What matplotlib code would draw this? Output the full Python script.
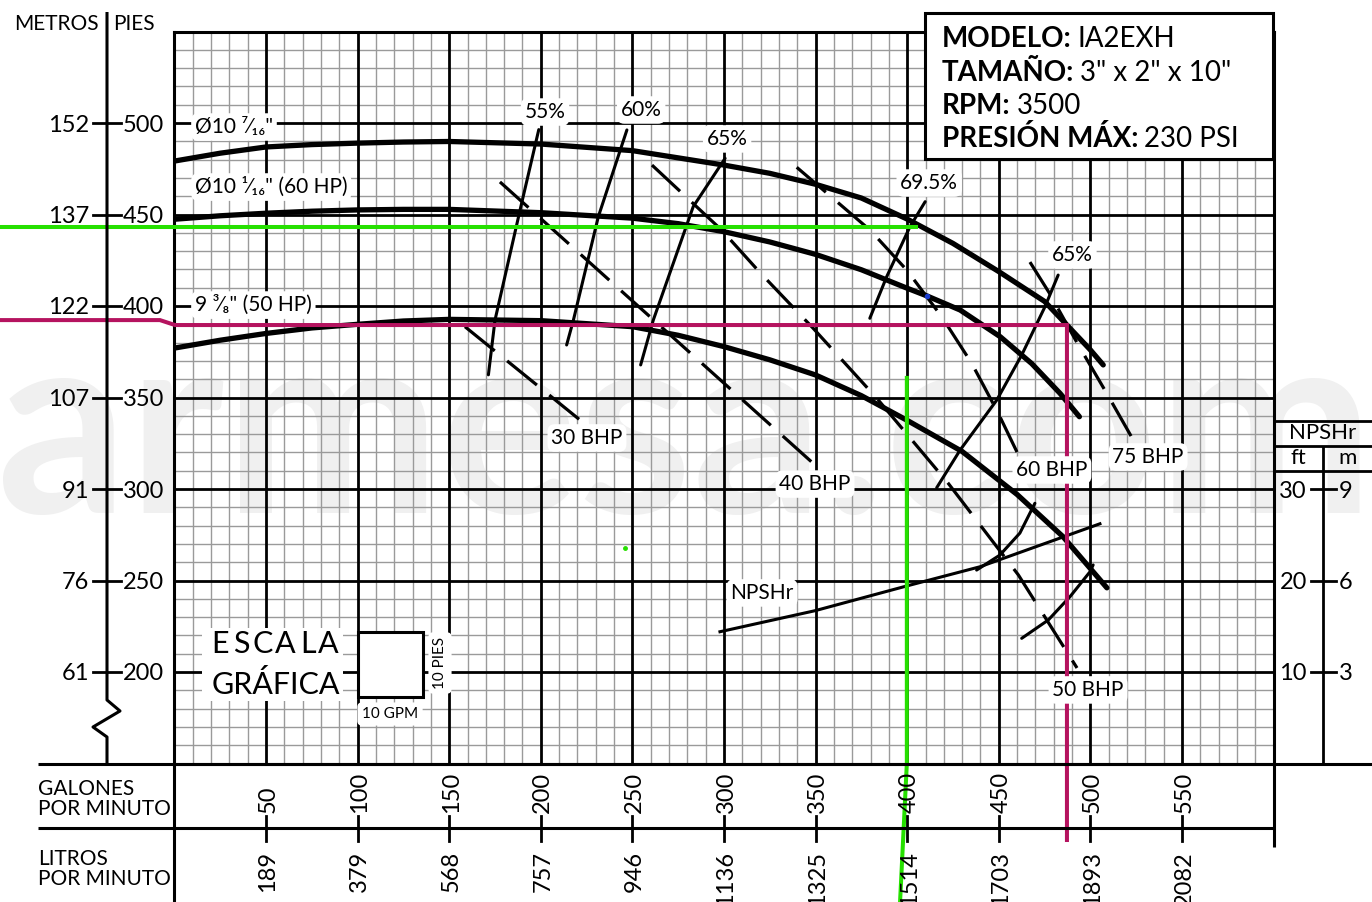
import matplotlib
matplotlib.use('Agg')
import matplotlib.pyplot as plt
from matplotlib import transforms
from matplotlib.patches import Rectangle
from matplotlib.lines import Line2D

plt.rcParams['font.family'] = ['Lato', 'DejaVu Sans']

W, H = 1372, 902

# ---------------- data ----------------
# impeller head curves (GPM, feet)
imp_a_gpm = [0, 25, 50, 75, 100, 125, 150, 200, 250, 300, 325, 350, 375, 400, 425, 450, 475, 487.2, 500, 507]
imp_a_head = [479.2, 483.5, 486.9, 488.2, 489, 489.6, 489.9, 488.5, 484.9, 477, 472.5, 466.5, 459,
              447.5, 434.2, 418.8, 402.5, 389.6, 376, 367.8]
imp_b_gpm = [0, 25, 50, 75, 100, 125, 150, 200, 250, 275, 300, 325, 350, 375, 400, 410.8, 428.9, 450.8,
             468, 483.4, 494]
imp_b_head = [447.4, 449.3, 450.7, 451.8, 452.5, 452.8, 452.8, 451, 448, 445, 440.6, 435, 428.2, 419.8,
              409.7, 405.5, 397.8, 383.2, 368.5, 352.3, 339.5]
imp_c_gpm = [0, 25, 50, 75, 100, 125, 150, 200, 250, 275, 300, 325, 350, 375, 400, 430, 460, 485, 509]
imp_c_head = [377, 381.3, 385, 388, 390, 391.8, 392.7, 392, 388.7, 384, 377.8, 370.6, 362.3, 351,
              337.5, 320.5, 297, 274, 246]

# efficiency iso-lines
eff55_gpm = [198.9, 188.9, 175, 171.4]
eff55_head = [496.4, 453.4, 392.3, 362.4]
eff60_gpm = [247, 231.4, 217.8, 214.1]
eff60_head = [496.2, 448.8, 392.3, 378.7]
eff65_gpm = [300.6, 283.2, 261.4, 254.5]
eff65_head = [480.7, 454.3, 392.3, 367.8]
eff695_gpm = [409.8, 401.5, 388.8, 379.6]
eff695_head = [457, 443.3, 416, 393.3]
eff65r_gpm = [482.4, 475.2, 462.5, 448.9, 428.9, 416.1]
eff65r_head = [416.9, 399.6, 373.2, 348.6, 321.3, 300.7]
eff60r_gpm = [437.9, 450.6, 461.5, 469.7]
eff60r_head = [255.7, 263.9, 275.9, 292.2]
eff55r_gpm = [462.5, 477, 488.9, 499.8, 501.5]
eff55r_head = [218.4, 228.4, 241.2, 254.8, 258.5]

# brake horsepower lines
bhp30_gpm = [158.6, 221.4]
bhp30_head = [388.7, 337.7]
bhp40_gpm = [177.7, 348.7]
bhp40_head = [467.8, 314.0]
bhp50_gpm = [260.7, 298.7, 319.7, 348.7, 383.4, 422.4, 460.7, 492.7]
bhp50_head = [477.0, 441.5, 418.2, 387.8, 349.6, 303.1, 253.0, 202.2]
bhp60_gpm = [339.7, 379.7, 399.7, 418.8, 435.2, 449.7, 460.7]
bhp60_head = [475.8, 441.5, 419.7, 394.2, 368.7, 341.4, 318.6]
bhp75_gpm = [467.0, 477.9, 493.4, 508.9, 523.4]
bhp75_head = [424.0, 406.6, 378.7, 352.3, 326.8]

# NPSHr curve (GPM, ft of NPSHr)
npsh_gpm = [297.8, 349.7, 399.7, 439.7, 505.2]
npsh_ft = [14.4, 16.7, 19.4, 21.5, 26.2]

# operating-point guide lines
green_h_gpm = [-95.2, 404.8]
green_h_head = [443.2, 443.2]
green_v_gpm = [399.8, 399.8, 396.1]
green_v_head = [360.7, 150, 74.3]
mag_gpm = [-95.2, -7.9, 0.3, 487.2, 487.2]
mag_head = [392.3, 392.3, 389.6, 389.6, 108.2]

# axis labels
feet_ticks = [500, 450, 400, 350, 300, 250, 200]
meter_labels = ['152', '137', '122', '107', '91', '76', '61']
gpm_ticks = [50, 100, 150, 200, 250, 300, 350, 400, 450, 500, 550]
lpm_labels = ['189', '379', '568', '757', '946', '1136', '1325', '1514', '1703', '1893', '2082']
npsh_ticks_ft = [30, 20, 10]
npsh_ticks_m = ['9', '6', '3']

info_keys = ['MODELO:', 'TAMAÑO:', 'RPM:', 'PRESIÓN MÁX:']
info_vals = ['IA2EXH', '3" x 2" x 10"', '3500', '230 PSI']

# ---------------- figure ----------------
fig = plt.figure(figsize=(W / 100, H / 100), dpi=100)
fig.patch.set_facecolor('white')


def fx(px):
    return px / W


def fy(py):
    return 1 - py / H


ax = fig.add_axes([fx(174.4), fy(763.5), (1273.6 - 174.4) / W, (763.5 - 31.5) / H])
ax.set_xlim(0, 600)
ax.set_ylim(150, 550)
ax.patch.set_alpha(0)
ax.set_xticks([])
ax.set_yticks([])
for s in ax.spines.values():
    s.set_linewidth(2.2)
    s.set_color('black')
    s.set_zorder(3)

# watermark
fig.text(fx(-150), fy(513), 'barmesa.com', fontsize=186, fontweight='bold', color='#f0f0f0',
         ha='left', va='baseline', zorder=-5)

# grid
for g in range(0, 601, 10):
    if g % 50:
        ax.axvline(g, color='#9a9a9a', lw=1.0, zorder=1)
    else:
        ax.axvline(g, color='black', lw=2.0, zorder=2)
for h in range(150, 551, 10):
    if h % 50:
        ax.axhline(h, color='#9a9a9a', lw=1.0, zorder=1)
    else:
        ax.axhline(h, color='black', lw=2.0, zorder=2)

# curves
for gx, gy in [(imp_a_gpm, imp_a_head), (imp_b_gpm, imp_b_head), (imp_c_gpm, imp_c_head)]:
    ax.plot(gx, gy, color='black', lw=3.8, solid_capstyle='round', solid_joinstyle='round', zorder=5)

for gx, gy in [(eff55_gpm, eff55_head), (eff60_gpm, eff60_head), (eff65_gpm, eff65_head),
               (eff695_gpm, eff695_head), (eff65r_gpm, eff65r_head), (eff60r_gpm, eff60r_head),
               (eff55r_gpm, eff55r_head)]:
    ax.plot(gx, gy, color='black', lw=2.2, solid_capstyle='round', solid_joinstyle='round', zorder=5)

for gx, gy in [(bhp30_gpm, bhp30_head), (bhp40_gpm, bhp40_head), (bhp50_gpm, bhp50_head),
               (bhp60_gpm, bhp60_head), (bhp75_gpm, bhp75_head)]:
    ax.plot(gx, gy, color='black', lw=2.3, linestyle=(0, (12, 5)), dash_capstyle='butt', zorder=5)

ax.plot(npsh_gpm, [150 + 5 * v for v in npsh_ft], color='black', lw=2.2, zorder=5)

# guide lines
ax.plot(green_h_gpm, green_h_head, color='#26e000', lw=2.9, zorder=6, clip_on=False)
ax.plot(green_v_gpm, green_v_head, color='#26e000', lw=2.9, zorder=6, clip_on=False)
ax.plot(mag_gpm, mag_head, color='#b5135f', lw=2.9, zorder=6, clip_on=False,
        solid_joinstyle='miter')
ax.plot([399.8, 246], [467.2, 267.8], linestyle='none', marker='o', ms=2.5, color='#26e000', zorder=6)
ax.plot([410.8], [405.5], linestyle='none', marker='o', ms=3, color='#1a3ccf', zorder=6)

# in-plot labels
box = dict(boxstyle='round,pad=0.18,rounding_size=0.35', fc='white', ec='none')
labels = [
    (11.2, 497.8, 'Ø10 ⁷⁄₁₆"', 'left'),
    (11.2, 465.0, 'Ø10 ¹⁄₁₆" (60 HP)', 'left'),
    (11.2, 400.5, '9 ³⁄₈" (50 HP)', 'left'),
    (202.3, 506.0, '55%', 'center'),
    (254.8, 507.1, '60%', 'center'),
    (301.7, 491.3, '65%', 'center'),
    (412.0, 467.2, '69.5%', 'center'),
    (490.2, 427.9, '65%', 'center'),
    (225.2, 327.9, '30 BHP', 'center'),
    (349.7, 302.7, '40 BHP', 'center'),
    (479.0, 310.4, '60 BHP', 'center'),
    (531.5, 317.5, '75 BHP', 'center'),
    (498.7, 190.2, '50 BHP', 'center'),
    (320.8, 243.2, 'NPSHr', 'center'),
]
for x, y, s, ha in labels:
    ax.text(x, y, s, fontsize=15, ha=ha, va='center', bbox=box, zorder=8)

# ---------------- decorations outside the grid ----------------
def fline(xs, ys, lw=2.0, color='black', z=4):
    fig.add_artist(Line2D([fx(v) for v in xs], [fy(v) for v in ys], lw=lw, color=color,
                          zorder=z, solid_capstyle='butt'))


tr_left = transforms.blended_transform_factory(fig.transFigure, ax.transData)
tr_bot = transforms.blended_transform_factory(ax.transData, fig.transFigure)

# left axis (metres | feet)
fline([107, 107, 120, 93, 107, 107], [12, 700, 711, 727, 737, 763], lw=2.2)
fig.text(fx(99), fy(24), 'METROS', fontsize=15, ha='right', va='center')
fig.text(fx(113), fy(24), 'PIES', fontsize=15, ha='left', va='center')
for ft, m in zip(feet_ticks, meter_labels):
    fig.add_artist(Line2D([fx(93), fx(121)], [ft, ft], transform=tr_left, lw=2.0, color='black'))
    fig.text(fx(89), ft, m, transform=tr_left, fontsize=17, ha='right', va='center_baseline')
    fig.text(fx(123), ft, str(ft), transform=tr_left, fontsize=17, ha='left', va='center_baseline')

# bottom flow scales
fline([38, 1372], [763.5, 763.5], lw=2.2)
fline([38, 1273.6], [828, 828], lw=2.2)
fline([174.4, 174.4], [763, 902], lw=2.2)
fline([1273.6, 1273.6], [763, 847], lw=2.2)
fig.text(fx(38), fy(799), 'GALONES\nPOR MINUTO', fontsize=15, ha='left', va='center', linespacing=1.0)
fig.text(fx(38), fy(869), 'LITROS\nPOR MINUTO', fontsize=15, ha='left', va='center', linespacing=1.0)
for g, l in zip(gpm_ticks, lpm_labels):
    fig.add_artist(Line2D([g, g], [fy(816), fy(841)], transform=tr_bot, lw=2.0, color='black'))
    fig.text(g, fy(813), str(g), transform=tr_bot, fontsize=17, rotation=90,
             rotation_mode='anchor', ha='left', va='center_baseline')
    fig.text(g, fy(851), l, transform=tr_bot, fontsize=17, rotation=90,
             rotation_mode='anchor', ha='right', va='center_baseline')

# NPSHr panel
fline([1273, 1372], [421, 421], lw=2.0)
fline([1273, 1372], [445.5, 445.5], lw=2.0)
fline([1273, 1372], [471, 471], lw=2.0)
fline([1323, 1323], [445.5, 763], lw=2.0)
fig.text(fx(1323), fy(433), 'NPSHr', fontsize=16, ha='center', va='center')
fig.text(fx(1298), fy(458), 'ft', fontsize=16, ha='center', va='center')
fig.text(fx(1348), fy(458), 'm', fontsize=16, ha='center', va='center')
for f, m in zip(npsh_ticks_ft, npsh_ticks_m):
    yv = 150 + 5 * f
    fig.add_artist(Line2D([fx(1311), fx(1336)], [yv, yv], transform=tr_left, lw=2.0, color='black'))
    fig.text(fx(1307), yv, str(f), transform=tr_left, fontsize=17, ha='right', va='center_baseline')
    fig.text(fx(1339), yv, m, transform=tr_left, fontsize=17, ha='left', va='center_baseline')

# info box
fig.add_artist(Rectangle((fx(925), fy(159)), (1273 - 925) / W, (159 - 13) / H,
                         transform=fig.transFigure, fc='white', ec='black', lw=2.2, zorder=9))
renderer = fig.canvas.get_renderer()
for i, (k, v) in enumerate(zip(info_keys, info_vals)):
    yb = fy([47, 81, 114.5, 147][i])
    t = fig.text(fx(942), yb, k, fontsize=20, fontweight='bold', ha='left', va='baseline', zorder=10)
    bb = t.get_window_extent(renderer)
    fig.text(bb.x1 / W + 6 / W, yb, v, fontsize=20, ha='left', va='baseline', zorder=10)

# graphic scale
fig.add_artist(Rectangle((fx(202), fy(701)), 141 / W, 73 / H, transform=fig.transFigure,
                         fc='white', ec='none', zorder=9))
for cx, ch in zip([220, 241.5, 263, 285, 308.5, 328], 'ESCALA'):
    fig.text(fx(cx), fy(644), ch, fontsize=22, ha='center', va='center', zorder=10)
fig.text(fx(276), fy(684), 'GRÁFICA', fontsize=22, ha='center', va='center', zorder=10)
fig.add_artist(Rectangle((fx(358), fy(696.5)), 65 / W, 65 / H, transform=fig.transFigure,
                         fc='white', ec='black', lw=2.2, zorder=9))
fig.text(fx(390), fy(714), '10 GPM', fontsize=11, ha='center', va='center', zorder=10,
         bbox=dict(boxstyle='round,pad=0.3', fc='white', ec='none'))
fig.text(fx(440), fy(663), '10 PIES', fontsize=11, ha='center', va='center', rotation=90, zorder=10,
         bbox=dict(boxstyle='round,pad=0.3', fc='white', ec='none'))

fig.savefig('out.png', dpi=100, facecolor='white')
